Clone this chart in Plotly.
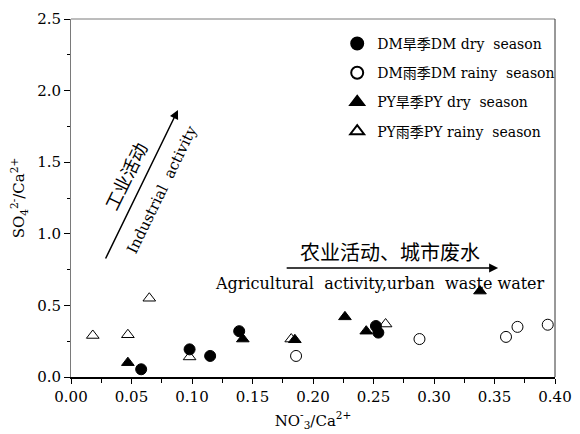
import plotly.graph_objects as go

# NO3-/Ca2+ (x) and SO4 2-/Ca2+ (y) ratios per sampling group
dm_dry_x = [0.058, 0.098, 0.115, 0.139, 0.252, 0.254]
dm_dry_y = [0.054, 0.193, 0.147, 0.320, 0.356, 0.310]

dm_rainy_x = [0.186, 0.288, 0.3595, 0.369, 0.394]
dm_rainy_y = [0.147, 0.265, 0.280, 0.350, 0.365]

py_dry_x = [0.047, 0.142, 0.185, 0.2264, 0.244, 0.338]
py_dry_y = [0.100, 0.265, 0.260, 0.420, 0.320, 0.600]

py_rainy_x = [0.018, 0.047, 0.0647, 0.098, 0.182, 0.260]
py_rainy_y = [0.290, 0.295, 0.550, 0.140, 0.265, 0.370]

x_ticks = [0.00, 0.05, 0.10, 0.15, 0.20, 0.25, 0.30, 0.35, 0.40]
y_ticks = [0.0, 0.5, 1.0, 1.5, 2.0, 2.5]

SERIF = "DejaVu Serif, Liberation Serif, Noto Sans CJK SC, serif"

fig = go.Figure()

series = [
    ("DM旱季DM dry  season", dm_dry_x, dm_dry_y, "circle"),
    ("DM雨季DM rainy  season", dm_rainy_x, dm_rainy_y, "circle-open"),
    ("PY旱季PY dry  season", py_dry_x, py_dry_y, "triangle-up"),
    ("PY雨季PY rainy  season", py_rainy_x, py_rainy_y, "triangle-up-open"),
]
for i, (name, xs, ys, sym) in enumerate(series):
    fig.add_trace(go.Scatter(
        x=xs, y=ys, mode="markers", name=name, legendgroup=f"g{i}",
        marker=dict(symbol=sym, size=11, color="black",
                    line=dict(color="black", width=1)),
    ))

# trend arrows with their labels
fig.add_annotation(x=0.353, y=0.761, ax=0.177, ay=0.761,
                   xref="x", yref="y", axref="x", ayref="y",
                   text="", showarrow=True, arrowhead=2, arrowsize=1.2,
                   arrowwidth=1.5, arrowcolor="black")
fig.add_annotation(x=0.0884, y=1.865, ax=0.028, ay=0.817,
                   xref="x", yref="y", axref="x", ayref="y",
                   text="", showarrow=True, arrowhead=2, arrowsize=1.2,
                   arrowwidth=1.5, arrowcolor="black")

fig.add_annotation(x=0.2636, y=0.866, text="农业活动、城市废水", showarrow=False,
                   font=dict(family=SERIF, size=20, color="black"))
fig.add_annotation(x=0.255, y=0.65, text="Agricultural  activity,urban  waste water",
                   showarrow=False, font=dict(family=SERIF, size=16, color="black"))
fig.add_annotation(x=0.046, y=1.397, text="工业活动", showarrow=False, textangle=-64,
                   font=dict(family=SERIF, size=18, color="black"))
fig.add_annotation(x=0.075, y=1.306, text="Industrial  activity", showarrow=False,
                   textangle=-64, font=dict(family=SERIF, size=15, color="black"))

# plot frame: thin top and right edges
fig.add_shape(type="line", xref="paper", yref="paper", x0=0, x1=1, y0=1, y1=1,
              line=dict(color="#7a7a7a", width=1))
fig.add_shape(type="line", xref="paper", yref="paper", x0=1, x1=1, y0=0, y1=1,
              line=dict(color="#333333", width=1))

tick_font = dict(family=SERIF, size=15, color="black")
title_font = dict(family=SERIF, size=15, color="black")

fig.update_xaxes(range=[0, 0.40], tickvals=x_ticks, tickformat=".2f",
                 title=dict(text="NO<sup>-</sup><sub>3</sub>/Ca<sup>2+</sup>",
                            font=title_font, standoff=10),
                 automargin=False,
                 showline=True, linecolor="black", linewidth=2, mirror=False,
                 ticks="outside", ticklen=5, tickcolor="black",
                 showgrid=False, zeroline=False, tickfont=tick_font,
                 minor=dict(dtick=0.025, ticks="outside", ticklen=4, tickcolor="black"))
fig.update_yaxes(range=[0, 2.5], tickvals=y_ticks, tickformat=".1f",
                 title=dict(text="SO<sub>4</sub><sup>2-</sup>/Ca<sup>2+</sup>",
                            font=title_font, standoff=8),
                 automargin=False,
                 showline=True, linecolor="#7a7a7a", linewidth=1, mirror=False,
                 ticks="outside", ticklen=6, tickcolor="black",
                 showgrid=False, zeroline=False, tickfont=tick_font,
                 minor=dict(dtick=0.25, ticks="outside", ticklen=3, tickcolor="black"))

fig.update_layout(
    width=580, height=434,
    margin=dict(l=71, r=25, t=19, b=57),
    paper_bgcolor="white", plot_bgcolor="white",
    showlegend=True,
    legend=dict(x=0.55, y=0.975, xanchor="left", yanchor="top",
                bgcolor="rgba(0,0,0,0)", itemsizing="constant",
                tracegroupgap=8, itemwidth=30,
                font=dict(family=SERIF, size=14, color="black")),
    font=dict(family=SERIF, color="black"),
)

fig.write_html("out.html")
